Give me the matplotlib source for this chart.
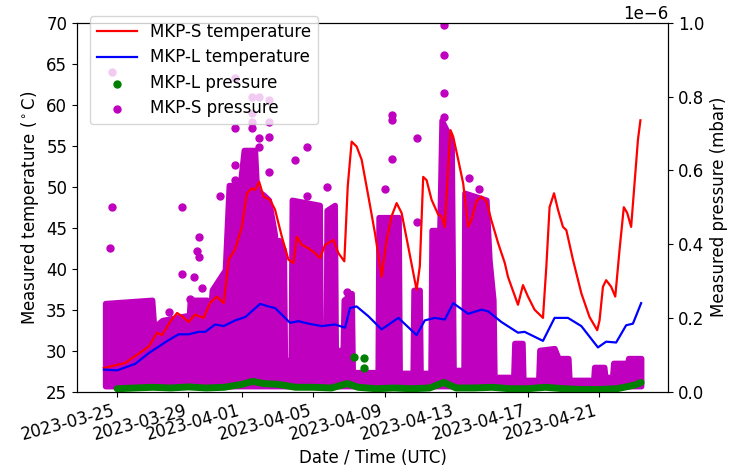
import numpy as np
import pandas as pd
import matplotlib
matplotlib.use("Agg")
import matplotlib.pyplot as plt
import matplotlib.dates as mdates

# time axis: days since 2023-03-24 00:00 UTC
start = pd.Timestamp("2023-03-24")

# MKP-S temperature (red)
s_temp_days = [0.26, 1.45, 2.77, 3.24, 3.52, 3.96, 4.36, 4.64, 5.01, 5.36, 5.85, 6.20, 6.59, 6.97,
               7.25, 7.60, 7.99, 8.27, 8.55, 8.73, 8.96, 9.20, 9.57, 9.85, 10.23, 10.60, 10.88,
               11.07, 11.35, 11.72, 12.09, 12.37, 12.65, 13.12, 13.40, 13.73, 13.92, 14.14, 14.42,
               14.70, 15.08, 15.45, 15.82, 16.10, 16.38, 16.66, 16.94, 17.31, 17.78, 17.96, 18.15,
               18.34, 18.62, 18.99, 19.18, 19.36, 19.55, 19.68, 19.83, 20.11, 20.39, 20.67, 20.85,
               21.13, 21.41, 21.69, 21.97, 22.35, 22.72, 22.90, 23.46, 23.74, 24.02, 24.39, 24.86,
               25.05, 25.23, 25.48, 25.70, 25.98, 26.17, 26.54, 27.01, 27.47, 27.90, 28.03, 28.22,
               28.40, 28.68, 28.91, 29.15, 29.39, 29.58, 29.80, 29.99, 30.18, 30.32]
s_temp = [27.9, 28.5, 30.5, 32.2, 31.9, 33.5, 34.6, 34.2, 33.5, 34.4, 34.0, 35.8, 36.6, 35.8,
          41.1, 42.3, 45.1, 49.2, 49.8, 49.6, 50.6, 48.8, 48.4, 47.2, 43.9, 41.1, 40.7,
          43.9, 42.9, 42.5, 41.9, 41.3, 42.9, 43.5, 41.9, 40.9, 50.0, 55.5, 54.9,
          53.3, 48.8, 44.3, 39.0, 43.5, 46.4, 48.0, 46.8, 42.7, 37.4, 40.3, 51.2,
          50.8, 48.4, 46.6, 46.4, 45.1, 52.4, 56.9, 56.1, 53.3, 50.4, 45.1, 45.9,
          48.2, 48.8, 48.2, 45.9, 43.1, 40.7, 39.0, 35.6, 38.0, 36.6, 35.0, 34.0,
          40.3, 47.5, 49.2, 47.2, 45.1, 44.7, 41.1, 37.0, 34.1, 32.5, 33.7, 37.8,
          38.6, 37.8, 36.6, 42.3, 47.5, 46.8, 45.1, 50.4, 55.7, 58.1]

# MKP-L temperature (blue)
l_temp_days = [0.26, 1.00, 2.02, 2.77, 3.33, 3.89, 4.45, 5.01, 5.57, 5.94, 6.50, 6.97, 7.62, 8.18,
               9.01, 9.48, 9.85, 10.23, 10.69, 11.16, 11.72, 12.47, 13.21, 13.77, 14.05, 14.42,
               15.08, 15.82, 16.76, 17.78, 18.24, 18.80, 19.36, 19.83, 20.67, 21.41, 21.79, 22.53,
               23.46, 23.83, 24.86, 25.51, 26.26, 27.01, 27.94, 28.40, 28.96, 29.52, 29.90, 30.36]
l_temp = [27.7, 27.6, 28.4, 29.7, 30.5, 31.3, 32.0, 32.0, 32.3, 32.3, 33.2, 33.0, 33.7, 34.1,
          35.7, 35.4, 35.2, 34.4, 33.4, 33.6, 33.3, 33.0, 33.2, 32.8, 35.2, 35.4,
          34.2, 32.6, 34.0, 31.9, 33.7, 34.0, 33.8, 35.8, 34.5, 35.0, 34.8, 33.5,
          32.2, 32.3, 31.2, 34.0, 34.0, 33.0, 30.4, 31.1, 31.0, 33.1, 33.3, 35.8]

# MKP-S pressure (1e-6 mbar): upper edge of the dense band of readings
s_band_days = [0.33, 0.33, 2.96, 3.07, 3.52, 5.03, 5.08, 6.03, 6.15, 6.31, 7.04, 7.26, 7.88, 8.10,
               8.72, 8.83, 9.22, 9.50, 9.84, 9.95, 10.06, 10.34, 10.40, 10.73, 10.79, 12.35,
               12.41, 12.69, 12.74, 13.19, 13.25, 13.64, 13.70, 14.14, 14.20, 15.60, 15.65, 16.77,
               16.83, 17.56, 17.61, 17.95, 18.00, 18.56, 18.62, 19.06, 19.18, 19.74, 19.85, 20.41,
               20.46, 21.69, 21.86, 22.08, 22.14, 23.20, 23.26, 23.71, 23.76, 24.60, 24.66, 25.50,
               25.72, 26.28, 26.34, 27.68, 27.73, 28.29, 28.35, 28.74, 28.80, 29.41, 29.52, 29.64,
               30.36]
s_band_top = [0.015, 0.240, 0.249, 0.175, 0.194, 0.208, 0.249, 0.249, 0.167, 0.276, 0.330, 0.560,
              0.560, 0.655, 0.655, 0.547, 0.533, 0.520, 0.425, 0.051, 0.411, 0.384, 0.086, 0.086,
              0.520, 0.506, 0.051, 0.051, 0.492, 0.506, 0.113, 0.113, 0.249, 0.267, 0.053, 0.053,
              0.473, 0.473, 0.051, 0.051, 0.276, 0.276, 0.051, 0.051, 0.438, 0.438, 0.736, 0.682,
              0.059, 0.059, 0.539, 0.520, 0.357, 0.249, 0.040, 0.040, 0.132, 0.132, 0.032, 0.032,
              0.113, 0.118, 0.091, 0.091, 0.032, 0.032, 0.067, 0.067, 0.040, 0.040, 0.078, 0.078,
              0.059, 0.091, 0.091]
s_band_base = 0.015

# MKP-S pressure: isolated readings above the band
s_pts_days = [0.72, 0.61, 0.72, 0.61, 3.91, 4.64, 4.64, 5.08, 5.31, 5.47, 5.59, 5.59, 5.75, 6.76,
              7.60, 7.60, 7.60, 7.60, 7.60, 7.60, 8.55, 8.55, 8.55, 8.55, 8.94, 8.94, 8.94,
              9.50, 9.50, 9.50, 9.50, 10.96, 11.63, 11.63, 12.74, 13.86, 15.99, 16.38, 16.41,
              16.38, 17.78, 17.78, 19.34, 19.34, 19.34, 19.34, 20.74, 21.30, 21.86]
s_pts = [0.866, 0.390, 0.500, 0.200, 0.216, 0.320, 0.500, 0.250, 0.310, 0.380, 0.365, 0.420,
         0.280, 0.530, 0.850, 0.715, 0.614, 0.573, 0.510, 0.465, 0.800, 0.755, 0.730, 0.715,
         0.800, 0.687, 0.663, 0.790, 0.730, 0.690, 0.595, 0.628, 0.663, 0.530, 0.555, 0.270,
         0.550, 0.750, 0.736, 0.630, 0.687, 0.460, 0.994, 0.912, 0.810, 0.745, 0.580, 0.550,
         0.260]

# MKP-L pressure (green): baseline band and a few isolated readings
l_band_days = [1.0, 2.0, 3.0, 4.0, 5.0, 6.0, 7.0, 8.0, 8.6, 9.2, 10.0, 11.0, 12.0, 13.0, 13.9,
               14.5, 15.5, 16.5, 17.5, 18.5, 19.3, 20.0, 21.0, 22.0, 23.0, 24.0, 25.0, 26.0,
               27.0, 28.0, 29.0, 30.0, 30.36]
l_band = [0.008, 0.010, 0.012, 0.010, 0.013, 0.010, 0.012, 0.020, 0.028, 0.022, 0.020, 0.012,
          0.012, 0.010, 0.022, 0.012, 0.008, 0.010, 0.008, 0.010, 0.025, 0.010, 0.010, 0.012,
          0.008, 0.008, 0.012, 0.008, 0.006, 0.006, 0.008, 0.018, 0.025]
l_pts_days = [14.26, 14.81, 14.81]
l_pts = [0.094, 0.091, 0.064]


def to_time(days):
    return start + pd.to_timedelta(np.asarray(days), unit="D")


plt.rcParams["font.size"] = 12
fig = plt.figure(figsize=(7.4, 4.76), dpi=100)
ax1 = fig.add_axes([0.1041, 0.1771, 0.7986, 0.7752])
ax2 = ax1.twinx()

# pressure on the right axis
ax2.fill_between(to_time(s_band_days), s_band_base * 1e-6, np.array(s_band_top) * 1e-6,
                 color="m", lw=4, joinstyle="round")
s_sc = ax2.scatter(to_time(s_pts_days), np.array(s_pts) * 1e-6, s=25, color="m",
                   label="MKP-S pressure")
ax2.plot(to_time(l_band_days), np.array(l_band) * 1e-6, color="g", lw=5,
         solid_capstyle="round", zorder=3)
l_sc = ax2.scatter(to_time(l_pts_days), np.array(l_pts) * 1e-6, s=25, color="g",
                   label="MKP-L pressure", zorder=3)
ax2.set_ylim(0, 1e-6)
ax2.set_ylabel("Measured pressure (mbar)")

# temperatures on the left axis, drawn above the pressure points
ax1.set_zorder(ax2.get_zorder() + 1)
ax1.patch.set_visible(False)
s_line, = ax1.plot(to_time(s_temp_days), s_temp, color="r", lw=1.6,
                   solid_joinstyle="round", label="MKP-S temperature")
l_line, = ax1.plot(to_time(l_temp_days), l_temp, color="b", lw=1.6,
                   solid_joinstyle="round", label="MKP-L temperature")
ax1.set_ylim(25, 70)
ax1.set_ylabel(r"Measured temperature ($^\circ$C)")
ax1.set_xlabel("Date / Time (UTC)")

ax1.xaxis.set_major_locator(mdates.DayLocator(bymonthday=[1, 5, 9, 13, 17, 21, 25, 29]))
ax1.xaxis.set_major_formatter(mdates.DateFormatter("%Y-%m-%d"))
for lbl in ax1.get_xticklabels():
    lbl.set_rotation(15)
    lbl.set_ha("right")

ax1.legend(handles=[s_line, l_line, l_sc, s_sc], loc="upper left",
           bbox_to_anchor=(0.008, 1.04), handlelength=2.4, labelspacing=0.45)

fig.savefig("out.png", dpi=100)
